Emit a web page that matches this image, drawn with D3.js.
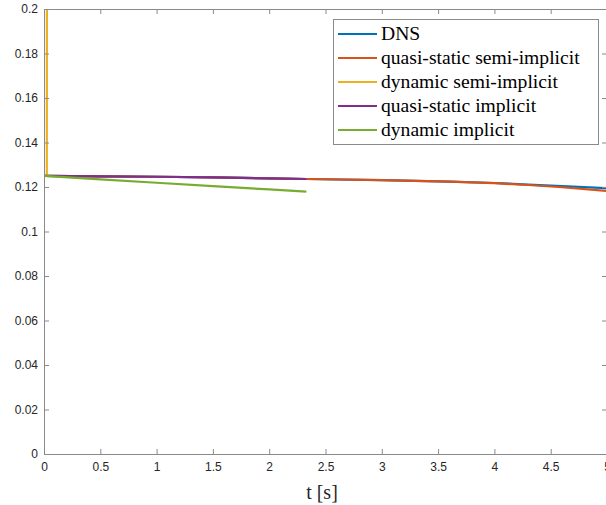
<!DOCTYPE html>
<html><head><meta charset="utf-8">
<script src="https://cdn.jsdelivr.net/npm/d3@7"></script>
<style>body{margin:0;background:#fff}svg{display:block}</style>
</head><body>
<script>
const xTicks = [0,0.5,1,1.5,2,2.5,3,3.5,4,4.5,5];
const yTicks = [0,0.02,0.04,0.06,0.08,0.1,0.12,0.14,0.16,0.18,0.2];
const seriesNames = ["DNS","quasi-static semi-implicit","dynamic semi-implicit","quasi-static implicit","dynamic implicit"];
const seriesColors = ["#0072BD","#D95319","#EDB120","#7E2F8E","#77AC30"];
const tDNS = [0,0.5,1,1.5,2,2.33,3,3.6,4,4.3,4.6,5];
const vDNS = [0.125,0.1248,0.1246,0.1243,0.1239,0.1236,0.1231,0.1224,0.1218,0.1211,0.1204,0.1195];
const tQSS = [0,0.5,1,1.5,2,2.33,3,3.6,4,4.3,4.6,5];
const vQSS = [0.125,0.1248,0.1246,0.1243,0.1239,0.1236,0.1231,0.1224,0.1217,0.1209,0.1199,0.1182];
const tDSI = [0,0.025,0.03];
const vDSI = [0.125,0.1252,0.5];
const tQSI = [0,0.5,1,1.5,2,2.33];
const vQSI = [0.125,0.1248,0.1246,0.1243,0.1239,0.1236];
const tDI = [0,0.5,1,1.5,2,2.33];
const vDI = [0.125,0.1234,0.1219,0.1204,0.1189,0.1179];
const allT = [tDNS,tQSS,tDSI,tQSI,tDI];
const allV = [vDNS,vQSS,vDSI,vQSI,vDI];

const W=606,H=505;
const L=44,R=607,T=9,B=454;
const svg=d3.select("body").append("svg").attr("width",W).attr("height",H);
const x=d3.scaleLinear().domain([0,5]).range([L,R]);
const y=d3.scaleLinear().domain([0,0.2]).range([B,T]);
const axisCol="#8a8a8a", tickFont="'Liberation Sans', Arial, Helvetica, sans-serif";

svg.append("clipPath").attr("id","clip").append("rect").attr("x",L).attr("y",T).attr("width",R-L).attr("height",B-T);

const line=d3.line().x(d=>x(d[0])).y(d=>y(d[1]));
const g=svg.append("g").attr("clip-path","url(#clip)");
allT.forEach((ts,i)=>{
  g.append("path").datum(ts.map((t,j)=>[t,allV[i][j]]))
   .attr("d",line).attr("fill","none").attr("stroke",seriesColors[i]).attr("stroke-width",2.2).attr("stroke-linejoin","round");
});

function styleAxis(sel){sel.select(".domain").attr("stroke",axisCol);sel.selectAll(".tick line").attr("stroke",axisCol);
  sel.selectAll(".tick text").attr("fill","#262626").style("font-family",tickFont).style("font-size","12px");}
const fmt=d=>d3.format("~g")(d);
const xb=svg.append("g").attr("transform",`translate(0,${B})`).call(d3.axisBottom(x).tickValues(xTicks).tickFormat(fmt).tickSizeInner(-5).tickSizeOuter(0).tickPadding(8));
styleAxis(xb);
const xt=svg.append("g").attr("transform",`translate(0,${T})`).call(d3.axisTop(x).tickValues(xTicks).tickFormat("").tickSizeInner(-5).tickSizeOuter(0));
styleAxis(xt);
const yl=svg.append("g").attr("transform",`translate(${L},0)`).call(d3.axisLeft(y).tickValues(yTicks).tickFormat(fmt).tickSizeInner(-5).tickSizeOuter(0).tickPadding(6));
styleAxis(yl);
const yr=svg.append("g").attr("transform",`translate(${R},0)`).call(d3.axisRight(y).tickValues(yTicks).tickFormat("").tickSizeInner(-5).tickSizeOuter(0));
styleAxis(yr);

svg.append("text").attr("x",322).attr("y",499).attr("text-anchor","middle")
  .style("font-family","'Liberation Serif','Times New Roman',serif").style("font-size","20px").attr("fill","#262626").text("t [s]");

// legend
const lg=svg.append("g");
lg.append("rect").attr("x",333.5).attr("y",19.5).attr("width",265).attr("height",125).attr("fill","#fff").attr("stroke","#8a8a8a").attr("stroke-width",1);
seriesNames.forEach((n,i)=>{
  const yy=34+i*24;
  lg.append("line").attr("x1",338).attr("x2",377).attr("y1",yy).attr("y2",yy).attr("stroke",seriesColors[i]).attr("stroke-width",2.2);
  lg.append("text").attr("x",381).attr("y",yy+6).style("font-family","'Liberation Serif','Times New Roman',serif").style("font-size","19.6px").attr("fill","#000").text(n);
});
</script>
</body></html>
